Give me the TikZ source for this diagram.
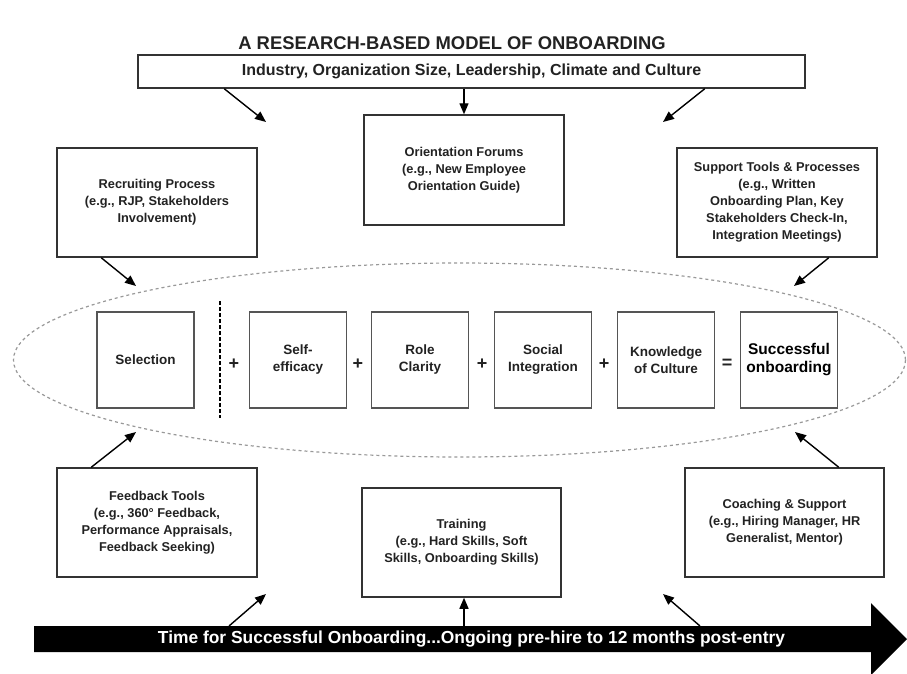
\documentclass[tikz,border=0pt]{standalone}
\usepackage{fontspec}
\setmainfont{Liberation Sans}
\usetikzlibrary{arrows.meta}
\definecolor{ink}{HTML}{222222}
\definecolor{frame}{HTML}{333333}
\definecolor{sqframe}{HTML}{555555}
\definecolor{ovalgray}{HTML}{999999}
\begin{document}
\begin{tikzpicture}[x=1pt,y=-1pt,
  outerbox/.style={draw=frame, line width=1.5pt, fill=white, align=center,
    text=ink, inner sep=0pt, font=\fontsize{12.8}{17}\selectfont\bfseries},
  sqbox/.style={draw=sqframe, line width=1.5pt, fill=white, align=center,
    text=ink, inner sep=0pt, minimum width=97pt, minimum height=96pt,
    font=\fontsize{13.5}{17}\selectfont\bfseries},
  opsign/.style={text=ink, inner sep=0pt, font=\fontsize{18}{18}\selectfont\bfseries},
  arr/.style={draw=black, line width=1.4pt, -{Triangle[length=11pt,width=9pt]}},
]
\useasboundingbox (0,0) rectangle (907,673);
\fill[white] (0,0) rectangle (907,673);

% title
\node[text=ink, font=\fontsize{18.4}{20}\selectfont\bfseries] (title) at (452,43)
  {A RESEARCH-BASED MODEL OF ONBOARDING};

% context bar
\node[outerbox, minimum width=667pt, minimum height=33pt,
      font=\fontsize{16}{18}\selectfont\bfseries] (ctx) at (471.5,71.5)
  {Industry, Organization Size, Leadership, Climate and Culture};

% surrounding boxes
\node[outerbox, minimum width=200pt, minimum height=110pt] (orient) at (464,170)
  {Orientation Forums\\(e.g., New Employee\\Orientation Guide)};
\node[outerbox, minimum width=200pt, minimum height=109pt] (recruit) at (157,202.5)
  {Recruiting Process\\(e.g., RJP, Stakeholders\\Involvement)};
\node[outerbox, minimum width=200pt, minimum height=109pt] (support) at (777,202.5)
  {Support Tools \& Processes\\(e.g., Written\\Onboarding Plan, Key\\Stakeholders Check-In,\\Integration Meetings)};
\node[outerbox, minimum width=200pt, minimum height=109pt] (feedback) at (157,522.5)
  {Feedback Tools\\(e.g., 360° Feedback,\\Performance Appraisals,\\Feedback Seeking)};
\node[outerbox, minimum width=199pt, minimum height=109pt] (training) at (461.5,542.5)
  {Training\\(e.g., Hard Skills, Soft\\Skills, Onboarding Skills)};
\node[outerbox, minimum width=199pt, minimum height=109pt] (coach) at (784.5,522.5)
  {Coaching \& Support\\(e.g., Hiring Manager, HR\\Generalist, Mentor)};

% dashed oval around the formula
\draw[ovalgray, line width=1.2pt, dash pattern=on 3pt off 3pt]
  (459.5,360) ellipse [x radius=446, y radius=97];

% formula row
\node[sqbox] (sel)  at (145.5,360) {Selection};
\node[sqbox] (self) at (298,360)   {Self-\\efficacy};
\node[sqbox] (role) at (420,360)   {Role\\Clarity};
\node[sqbox] (soc)  at (543,360)   {Social\\Integration};
\node[sqbox] (know) at (666,360)   {Knowledge\\of Culture};
\node[sqbox, text=black, font=\fontsize{15.5}{18}\selectfont\bfseries] (succ) at (789,360)
  {Successful\\onboarding};

\draw[black, line width=2.6pt, dash pattern=on 4pt off 2pt] (220,301) -- (220,418);
\node[opsign] (p1) at (234,364) {+};
\node[opsign] (p2) at (358,364) {+};
\node[opsign] (p3) at (482,364) {+};
\node[opsign] (p4) at (604,364) {+};
\node[opsign] (eq) at (727,364) {=};

% timeline arrow
\fill[black] (34,626) -- (871,626) -- (871,603) -- (907,639) -- (871,675)
  -- (871,652) -- (34,652) -- cycle;
\node[text=white, font=\fontsize{17.4}{17.4}\selectfont\bfseries] (time) at (471.5,639.5)
  {Time for Successful Onboarding...Ongoing pre-hire to 12 months post-entry};
\coordinate (tL) at (229,626);
\coordinate (tC) at (464,626);
\coordinate (tR) at (700,626);

% free arrow ends
\coordinate (aTL) at (266,122);
\coordinate (aTR) at (663,122);
\coordinate (aRec) at (136,286);
\coordinate (aSup) at (794,286);
\coordinate (aFb) at (136,432);
\coordinate (aCo) at (795,432);
\coordinate (aBL) at (266,594);
\coordinate (aBR) at (663,594);

% connectors
\draw[arr] ([xshift=87pt]ctx.south west) -- (aTL);
\draw[arr] (ctx.south -| orient.north) -- (orient.north);
\draw[arr] ([xshift=-101pt]ctx.south east) -- (aTR);
\draw[arr] ([xshift=45pt]recruit.south west) -- (aRec);
\draw[arr] ([xshift=-49pt]support.south east) -- (aSup);
\draw[arr] ([xshift=35pt]feedback.north west) -- (aFb);
\draw[arr] ([xshift=-46pt]coach.north east) -- (aCo);
\draw[arr] (tL) -- (aBL);
\draw[arr] (tC) -- (tC |- training.south);
\draw[arr] (tR) -- (aBR);
\end{tikzpicture}
\end{document}
